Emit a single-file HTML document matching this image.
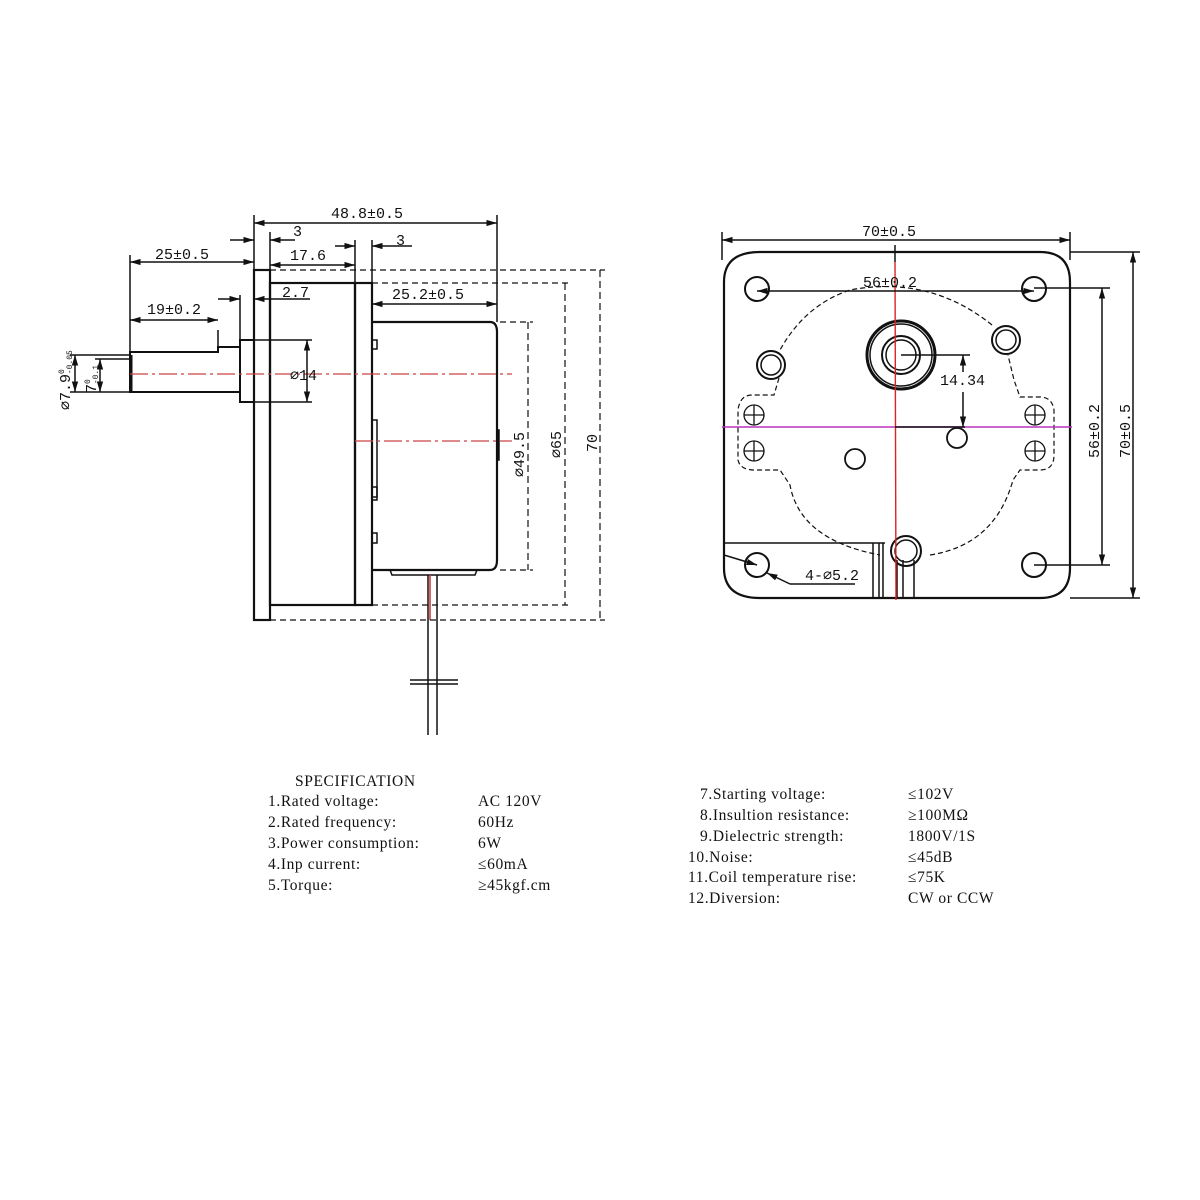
<!DOCTYPE html>
<html><head><meta charset="utf-8"><style>
body{margin:0;background:#fff}
svg{display:block}
text{font-family:"Liberation Serif","Noto Serif CJK SC",serif;fill:#111}
.d text{font-family:"Liberation Mono",monospace;font-size:15px}
.s text{font-family:"Liberation Serif",serif;font-size:15.5px;letter-spacing:0.6px}
</style></head><body>
<svg width="1200" height="1200" viewBox="0 0 1200 1200" xmlns="http://www.w3.org/2000/svg">
<defs>
<marker id="a" viewBox="0 0 10 10" refX="10" refY="5" markerWidth="7" markerHeight="7" orient="auto-start-reverse"><path d="M0,2 L10,5 L0,8z" fill="#111"/></marker>
</defs>
<g stroke="#111" stroke-width="1.5" fill="none">
<rect x="254" y="270" width="16" height="350" stroke-width="2.2"/>
<rect x="270" y="283" width="85" height="322" stroke-width="2.2"/>
<rect x="355" y="283" width="17" height="322" stroke-width="2.2"/>
<path d="M372,322 H490 Q497,322 497,332 V560 Q497,570 490,570 H372" stroke-width="2.2"/>
<path d="M390,570 L392,575 H475 L477,570" />
<rect x="372" y="340" width="5" height="9"/><rect x="372" y="420" width="5" height="80"/><rect x="372" y="533" width="5" height="10"/><rect x="372" y="487" width="5" height="10"/>
<rect x="497" y="430" width="2" height="30" fill="#111"/>
<rect x="240" y="340" width="14" height="62" stroke-width="2"/>
<path d="M240,347 H218 V352 H130 V392 H240" stroke-width="2"/>
<line x1="131" y1="355" x2="131" y2="392" stroke-width="3"/>
<line x1="428" y1="575" x2="428" y2="735"/><line x1="437" y1="575" x2="437" y2="735"/>
<line x1="430" y1="575" x2="430" y2="620" stroke="#c33"/>
<line x1="410" y1="680" x2="458" y2="680"/><line x1="410" y1="684" x2="458" y2="684"/>
<line x1="130" y1="374" x2="512" y2="374" stroke="#c44" stroke-dasharray="18,4,3,4" stroke-width="1.2"/>
<line x1="355" y1="441" x2="512" y2="441" stroke="#c44" stroke-dasharray="18,4,3,4" stroke-width="1.2"/>
<g stroke-dasharray="6,4" stroke-width="1.2">
<line x1="270" y1="270" x2="605" y2="270"/><line x1="270" y1="620" x2="605" y2="620"/>
<line x1="372" y1="283" x2="570" y2="283"/><line x1="372" y1="605" x2="570" y2="605"/>
<line x1="500" y1="322" x2="533" y2="322"/><line x1="500" y1="570" x2="533" y2="570"/>
</g>
<g stroke-dasharray="7,4" stroke-width="1.2">
<line x1="528" y1="322" x2="528" y2="570"/><line x1="565" y1="283" x2="565" y2="605"/><line x1="600" y1="270" x2="600" y2="620"/>
</g>
<line x1="254" y1="215" x2="254" y2="270"/><line x1="497" y1="215" x2="497" y2="322"/>
<line x1="270" y1="232" x2="270" y2="283"/><line x1="355" y1="240" x2="355" y2="283"/><line x1="372" y1="240" x2="372" y2="283"/>
<line x1="130" y1="255" x2="130" y2="352"/><line x1="218" y1="330" x2="218" y2="347"/><line x1="240" y1="295" x2="240" y2="340"/>
<line x1="254" y1="340" x2="312" y2="340"/><line x1="254" y1="402" x2="312" y2="402"/>
<line x1="70" y1="355" x2="130" y2="355"/><line x1="70" y1="392" x2="130" y2="392"/><line x1="95" y1="359" x2="130" y2="359"/>
<line x1="254" y1="223" x2="497" y2="223" marker-start="url(#a)" marker-end="url(#a)"/>
<line x1="230" y1="240" x2="254" y2="240" marker-end="url(#a)"/><line x1="295" y1="240" x2="270" y2="240" marker-end="url(#a)"/>
<line x1="270" y1="265" x2="355" y2="265" marker-start="url(#a)" marker-end="url(#a)"/>
<line x1="335" y1="246" x2="355" y2="246" marker-end="url(#a)"/><line x1="412" y1="246" x2="372" y2="246" marker-end="url(#a)"/>
<line x1="130" y1="262" x2="254" y2="262" marker-start="url(#a)" marker-end="url(#a)"/>
<line x1="218" y1="299" x2="240" y2="299" marker-end="url(#a)"/><line x1="310" y1="299" x2="254" y2="299" marker-end="url(#a)"/>
<line x1="372" y1="304" x2="497" y2="304" marker-start="url(#a)" marker-end="url(#a)"/>
<line x1="130" y1="320" x2="218" y2="320" marker-start="url(#a)" marker-end="url(#a)"/>
<line x1="307" y1="340" x2="307" y2="402" marker-start="url(#a)" marker-end="url(#a)"/>
<line x1="75" y1="355" x2="75" y2="392" marker-start="url(#a)" marker-end="url(#a)"/>
<line x1="100" y1="359" x2="100" y2="392" marker-start="url(#a)" marker-end="url(#a)"/>

<path d="M760,252 H1040 Q1070,252 1070,282 V568 Q1070,598 1040,598 H760 Q724,598 724,568 V282 Q724,252 760,252Z" stroke-width="2.2"/>
<line x1="724" y1="543" x2="885" y2="543"/>
<line x1="873" y1="543" x2="873" y2="598"/><line x1="879" y1="543" x2="879" y2="598"/><line x1="883" y1="543" x2="883" y2="598"/>
<line x1="897" y1="560" x2="897" y2="598"/><line x1="903" y1="560" x2="903" y2="598"/><line x1="914" y1="560" x2="914" y2="598"/>
<circle cx="757" cy="289" r="12" stroke-width="2"/><circle cx="1034" cy="289" r="12" stroke-width="2"/>
<circle cx="757" cy="565" r="12" stroke-width="2"/><circle cx="1034" cy="565" r="12" stroke-width="2"/>
<circle cx="901" cy="355" r="34" stroke-width="3"/><circle cx="901" cy="355" r="31"/>
<circle cx="901" cy="355" r="19" stroke-width="2"/><circle cx="901" cy="355" r="15"/>
<circle cx="771" cy="365" r="14" stroke-width="2"/><circle cx="771" cy="365" r="10"/>
<circle cx="1006" cy="340" r="14" stroke-width="2"/><circle cx="1006" cy="340" r="10"/>
<circle cx="906" cy="551" r="15" stroke-width="2"/><circle cx="906" cy="551" r="11"/>
<circle cx="957" cy="438" r="10" stroke-width="1.8"/><circle cx="855" cy="459" r="10" stroke-width="1.8"/>
<g stroke-width="1.3">
<circle cx="754" cy="415" r="10"/><path d="M744,415h20M754,405v20"/>
<circle cx="754" cy="451" r="10"/><path d="M744,451h20M754,441v20"/>
<circle cx="1035" cy="415" r="10"/><path d="M1025,415h20M1035,405v20"/>
<circle cx="1035" cy="451" r="10"/><path d="M1025,451h20M1035,441v20"/>
</g>
<path d="M779,378 L774,395 H752 Q740,395 738,410 V460 Q740,470 755,470 H780 L790,485 Q800,540 880,555 M930,555 Q995,545 1013,480 L1020,470 H1040 Q1054,470 1054,455 V410 Q1052,397 1040,397 H1020 L1014,380 L1008,355 M992,325 Q930,275 850,290 Q805,305 780,350" stroke-dasharray="5,3" stroke-width="1.2"/>
<line x1="722" y1="427" x2="1072" y2="427" stroke="#b3b" stroke-width="1.5"/>
<line x1="895" y1="262" x2="896" y2="600" stroke="#d22" stroke-width="1.4"/>
<line x1="895" y1="245" x2="895" y2="262"/>
<line x1="722" y1="240" x2="1070" y2="240" marker-start="url(#a)" marker-end="url(#a)"/>
<line x1="722" y1="232" x2="722" y2="260"/><line x1="1070" y1="232" x2="1070" y2="260"/>
<line x1="757" y1="291" x2="1034" y2="291" marker-start="url(#a)" marker-end="url(#a)"/>
<line x1="1034" y1="288" x2="1110" y2="288"/><line x1="1034" y1="565" x2="1110" y2="565"/>
<line x1="1070" y1="252" x2="1140" y2="252"/><line x1="1070" y1="598" x2="1140" y2="598"/>
<line x1="1102" y1="288" x2="1102" y2="565" marker-start="url(#a)" marker-end="url(#a)"/>
<line x1="1133" y1="252" x2="1133" y2="598" marker-start="url(#a)" marker-end="url(#a)"/>
<line x1="901" y1="355" x2="970" y2="355"/><line x1="895" y1="427" x2="965" y2="427"/>
<line x1="963" y1="372" x2="963" y2="355" marker-end="url(#a)"/><line x1="963" y1="392" x2="963" y2="427" marker-end="url(#a)"/>
<line x1="724" y1="555" x2="757" y2="565" marker-end="url(#a)"/><line x1="790" y1="584" x2="767" y2="573" marker-end="url(#a)"/>
<line x1="790" y1="584" x2="855" y2="584"/>
</g>
<g class="d">
<text x="331" y="218">48.8±0.5</text>
<text x="293" y="236">3</text>
<text x="396" y="245">3</text>
<text x="290" y="260">17.6</text>
<text x="155" y="259">25±0.5</text>
<text x="282" y="297">2.7</text>
<text x="392" y="299">25.2±0.5</text>
<text x="147" y="314">19±0.2</text>
<text x="290" y="380">⌀14</text>
<text transform="translate(524,477) rotate(-90)">⌀49.5</text>
<text transform="translate(561,458) rotate(-90)">⌀65</text>
<text transform="translate(597,452) rotate(-90)">70</text>
<text transform="translate(70,410) rotate(-90)" font-size="13">⌀7.9<tspan font-size="8" dy="-6">0</tspan><tspan font-size="8" dx="-5" dy="8">-0.05</tspan></text>
<text transform="translate(96,393) rotate(-90)" font-size="12">7<tspan font-size="8" dy="-6">0</tspan><tspan font-size="8" dx="-5" dy="8">-0.1</tspan></text>
<text x="862" y="236">70±0.5</text>
<text x="863" y="287">56±0.2</text>
<text x="940" y="385">14.34</text>
<text x="805" y="580">4-⌀5.2</text>
<text transform="translate(1099,458) rotate(-90)">56±0.2</text>
<text transform="translate(1130,458) rotate(-90)">70±0.5</text>
</g>
<g class="s">
<text x="295" y="786">SPECIFICATION</text>
<text x="268" y="806">1.Rated voltage:</text><text x="478" y="806">AC 120V</text>
<text x="268" y="827">2.Rated frequency:</text><text x="478" y="827">60Hz</text>
<text x="268" y="848">3.Power consumption:</text><text x="478" y="848">6W</text>
<text x="268" y="869">4.Inp current:</text><text x="478" y="869">≤60mA</text>
<text x="268" y="890">5.Torque:</text><text x="478" y="890">≥45kgf.cm</text>
<text x="700" y="799">7.Starting voltage:</text><text x="908" y="799">≤102V</text>
<text x="700" y="820">8.Insultion resistance:</text><text x="908" y="820">≥100MΩ</text>
<text x="700" y="841">9.Dielectric strength:</text><text x="908" y="841">1800V/1S</text>
<text x="688" y="862">10.Noise:</text><text x="908" y="862">≤45dB</text>
<text x="688" y="882">11.Coil temperature rise:</text><text x="908" y="882">≤75K</text>
<text x="688" y="903">12.Diversion:</text><text x="908" y="903">CW or CCW</text>
</g>
</svg>
</body></html>
